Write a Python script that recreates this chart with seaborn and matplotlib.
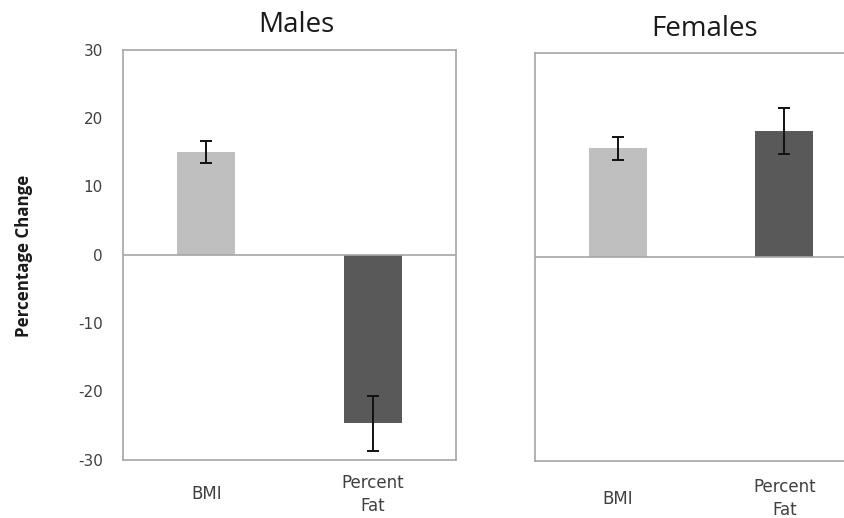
import pandas as pd
import matplotlib
matplotlib.use('Agg')
import matplotlib.pyplot as plt
import seaborn as sns

# values
measures = ['BMI', 'Percent\nFat']
male_change = [15.0, -24.7]
male_err = [1.6, 4.0]
female_change = [16.0, 18.5]
female_err = [1.7, 3.4]
bar_colors = ['#bfbfbf', '#595959']

sns.set_style('white')
plt.rcParams['font.family'] = ['DejaVu Sans']

fig = plt.figure(figsize=(8.44, 5.18), dpi=100)
W, H = 844, 518
# one category step is ~166.5 px; the Females box runs off the right edge
ax_m = fig.add_axes([123 / W, (H - 459.5) / H, 333 / W, 409.5 / H])
ax_f = fig.add_axes([534.5 / W, (H - 461) / H, (W - 534.5) / W, 408 / H])


def draw_panel(ax, values, errs, title, xmax, title_x, title_pad, xpad, y_labels=True):
    df = pd.DataFrame({'measure': measures, 'change': values})
    sns.barplot(data=df, x='measure', y='change', hue='measure', palette=bar_colors,
                width=0.35, legend=False, ax=ax, edgecolor='none')
    ax.errorbar(range(len(values)), values, yerr=errs, fmt='none', ecolor='#111111',
                elinewidth=1.4, capsize=4.3, capthick=1.4)
    ax.axhline(0, color='#a6a6a6', lw=1.2)
    ax.set_xlim(-0.5, xmax)
    ax.set_ylim(-30, 30)
    ax.set_yticks(range(-30, 31, 10))
    ax.set_yticklabels([str(v) for v in range(-30, 31, 10)])
    ax.set_xlabel('')
    ax.set_ylabel('')
    for s in ax.spines.values():
        s.set_visible(True)
        s.set_color('#a6a6a6')
        s.set_linewidth(1.2)
    if xmax < 1.5:
        ax.spines['right'].set_visible(False)
    ax.tick_params(axis='both', length=0, colors='#404040')
    ax.tick_params(axis='y', pad=14.5, labelsize=11)
    ax.tick_params(axis='x', pad=xpad, labelsize=12)
    for lbl in ax.get_xticklabels():
        lbl.set_linespacing(1.35)
        lbl.set_verticalalignment('center')
    if not y_labels:
        ax.set_yticklabels([])
    ax.set_title(title, fontsize=20, color='#1a1a1a', pad=title_pad, x=title_x,
                 family=['Open Sans', 'DejaVu Sans'])


draw_panel(ax_m, male_change, male_err, 'Males', 1.5, 0.522, 13, 25)
draw_panel(ax_f, female_change, female_err, 'Females', -0.5 + (W - 534.5) / 166.5,
           0.551, 12, 27, y_labels=False)

fig.text(24 / W, (H - 256) / H, 'Percentage Change', rotation=90, ha='center', va='center',
         fontsize=12.2, fontweight='bold', color='#1a1a1a', family=['Open Sans', 'DejaVu Sans'])

fig.savefig('out.png', dpi=100)
